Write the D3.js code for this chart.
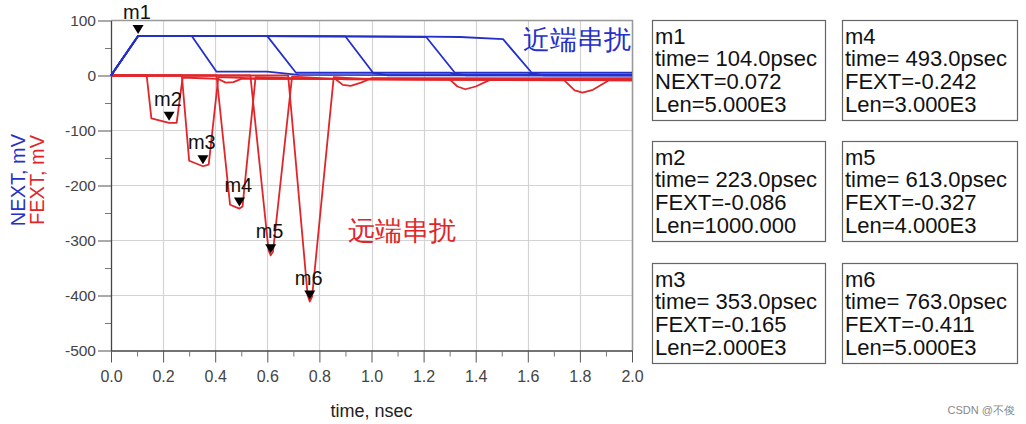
<!DOCTYPE html>
<html><head><meta charset="utf-8">
<script src="https://cdn.jsdelivr.net/npm/d3@7"></script>
<style>
body{margin:0;background:#fff;}
svg{display:block;}
text{font-family:"Liberation Sans",Arial,sans-serif;}
</style>
</head><body>
<svg id="chart" width="1026" height="424"></svg>
<script>
// ---------- data (time in ns, voltage in mV) ----------
const xTickValues = [0, 0.2, 0.4, 0.6, 0.8, 1.0, 1.2, 1.4, 1.6, 1.8, 2.0];
const xTickLabels = ["0.0","0.2","0.4","0.6","0.8","1.0","1.2","1.4","1.6","1.8","2.0"];
const yTickValues = [100, 0, -100, -200, -300, -400, -500];
const yTickLabels = ["100","0","-100","-200","-300","-400","-500"];

const next1000 = [[0,0],[0.104,72],[0.31,72],[0.405,7],[0.60,7],[0.72,1],[2.0,0.5]];
const next2000 = [[0,0],[0.104,72],[0.60,71.5],[0.71,5],[1.0,5],[1.06,0.5],[2.0,0.5]];
const next3000 = [[0,0],[0.104,72],[0.60,71.5],[0.90,71],[1.006,5],[1.30,5],[1.36,0.5],[2.0,0.5]];
const next4000 = [[0,0],[0.104,72],[0.90,71],[1.21,70],[1.32,5],[1.60,5],[1.66,0.5],[2.0,0.5]];
const next5000 = [[0,0],[0.104,72],[0.90,71],[1.20,70.5],[1.34,70],[1.505,66],[1.615,5],[2.0,5]];

const fext1000 = [[0,0],[0.137,0],[0.155,-78],[0.223,-86],[0.252,-86],[0.275,-4],[0.35,-5],[0.41,-6],[0.44,-13],[0.47,-12],[0.50,-6],[2.0,-5]];
const fext2000 = [[0,0],[0.272,0],[0.30,-155],[0.353,-165],[0.375,-162],[0.412,-3],[0.60,-6],[0.86,-6],[0.89,-17],[0.92,-19],[0.96,-13],[1.0,-5],[2.0,-6]];
const fext3000 = [[0,0],[0.405,0],[0.457,-235],[0.493,-242],[0.505,-238],[0.555,-3],[0.80,-6],[1.30,-7],[1.33,-20],[1.36,-25],[1.40,-20],[1.455,-8],[2.0,-8]];
const fext4000 = [[0,0],[0.535,0],[0.605,-318],[0.613,-327],[0.622,-320],[0.695,-2],[0.90,-7],[1.74,-9],[1.78,-27],[1.81,-31],[1.85,-26],[1.91,-9],[2.0,-9]];
const fext5000 = [[0,0],[0.68,0],[0.755,-400],[0.763,-411],[0.772,-402],[0.855,-3],[1.0,-7],[2.0,-9]];

const markerNames  = ["m1","m2","m3","m4","m5","m6"];
const markerTimes  = [0.104, 0.223, 0.353, 0.493, 0.613, 0.763];
const markerValues = [72, -86, -165, -242, -327, -411];
const markerTimeText = ["104.0","223.0","353.0","493.0","613.0","763.0"];
const markerTrace  = ["NEXT","FEXT","FEXT","FEXT","FEXT","FEXT"];
const markerVolt   = ["0.072","-0.086","-0.165","-0.242","-0.327","-0.411"];
const markerLen    = ["5.000E3","1000.000","2.000E3","3.000E3","4.000E3","5.000E3"];

// ---------- drawing ----------
const BLUE = "#2430c8", RED = "#e0262a";
const svg = d3.select("#chart");
svg.append("rect").attr("width",1026).attr("height",424).attr("fill","#fff");

const x = d3.scaleLinear().domain([0, 2]).range([111, 632]);
const y = d3.scaleLinear().domain([-500, 100]).range([350.5, 20.5]);

// grid
const grid = svg.append("g");
grid.selectAll("line.vx").data(xTickValues.slice(1)).join("line")
  .attr("x1", d => Math.round(x(d)) + 0.5).attr("x2", d => Math.round(x(d)) + 0.5)
  .attr("y1", y(100)).attr("y2", y(-500)).attr("stroke", "#d4d4d4").attr("stroke-width", 1.2);
grid.selectAll("line.hy").data(yTickValues.slice(0, -1)).join("line")
  .attr("x1", x(0)).attr("x2", x(2))
  .attr("y1", d => y(d)).attr("y2", d => y(d)).attr("stroke", "#d4d4d4").attr("stroke-width", 1.2);
// top & right frame
svg.append("path").attr("d", `M${x(0)},${y(100)}H${x(2)+0.5}V${y(-500)}`)
  .attr("fill","none").attr("stroke","#999").attr("stroke-width",1.5);

// axes
const xAxis = d3.axisBottom(x).tickValues(xTickValues)
  .tickFormat((d,i) => xTickLabels[i]).tickSize(12).tickSizeOuter(0).tickPadding(8);
const gx = svg.append("g").attr("transform", `translate(0,${y(-500)})`).call(xAxis);
gx.selectAll("text").attr("font-size", 16).attr("fill", "#444").attr("font-family", "Liberation Sans, Arial, sans-serif");
gx.selectAll("line").attr("stroke", "#555");
gx.select(".domain").attr("stroke", "#444").attr("stroke-width", 1.3);
const xMinor = d3.axisBottom(x).tickValues(d3.range(0.1, 2, 0.2)).tickFormat("").tickSize(6).tickSizeOuter(0);
const gxm = svg.append("g").attr("transform", `translate(0,${y(-500)})`).call(xMinor);
gxm.select(".domain").remove(); gxm.selectAll("line").attr("stroke", "#777");

const yAxis = d3.axisLeft(y).tickValues(yTickValues)
  .tickFormat((d,i) => yTickLabels[i]).tickSize(13).tickSizeOuter(0).tickPadding(2);
const gy = svg.append("g").attr("transform", `translate(${x(0)},0)`).call(yAxis);
gy.selectAll("text").attr("font-size", 15.5).attr("fill", "#444").attr("font-family", "Liberation Sans, Arial, sans-serif");
gy.selectAll("line").attr("stroke", "#555");
gy.select(".domain").attr("stroke", "#444").attr("stroke-width", 1.3);
const yMinor = d3.axisLeft(y).tickValues(d3.range(-450, 100, 100)).tickFormat("").tickSize(6).tickSizeOuter(0);
const gym = svg.append("g").attr("transform", `translate(${x(0)},0)`).call(yMinor);
gym.select(".domain").remove(); gym.selectAll("line").attr("stroke", "#777");

// curves
const line = d3.line().x(d => x(d[0])).y(d => y(d[1]));
const fextSeries = [fext1000, fext2000, fext3000, fext4000, fext5000];
const nextSeries = [next1000, next2000, next3000, next4000, next5000];
svg.append("g").selectAll("path").data(fextSeries).join("path")
  .attr("d", line).attr("fill","none").attr("stroke", RED).attr("stroke-width", 1.8).attr("stroke-linejoin","round");
svg.append("g").selectAll("path").data(nextSeries).join("path")
  .attr("d", line).attr("fill","none").attr("stroke", BLUE).attr("stroke-width", 1.8).attr("stroke-linejoin","round");

// markers
const mk = svg.append("g");
markerNames.forEach((n, i) => {
  const px = x(markerTimes[i]), py = y(markerValues[i]);
  mk.append("path").attr("d", `M${px},${py-2}L${px-5.5},${py-11}L${px+5.5},${py-11}Z`).attr("fill", "#000");
  mk.append("text").attr("x", px - 15).attr("y", py - 17).attr("font-size", 20).attr("fill", "#111").text(n);
});

// annotations
svg.append("text").attr("x", 523).attr("y", 49).attr("font-size", 27)
  .attr("font-family", "Noto Sans CJK SC, sans-serif").attr("fill", BLUE).text("近端串扰");
svg.append("text").attr("x", 348).attr("y", 240).attr("font-size", 27)
  .attr("font-family", "Noto Sans CJK SC, sans-serif").attr("fill", RED).text("远端串扰");

// y-axis titles
svg.append("text").attr("transform", "translate(25,180) rotate(-90)").attr("text-anchor","middle")
  .attr("font-size", 20).attr("fill", BLUE).text("NEXT, mV");
svg.append("text").attr("transform", "translate(44,180) rotate(-90)").attr("text-anchor","middle")
  .attr("font-size", 20).attr("fill", RED).text("FEXT, mV");
// x-axis title
svg.append("text").attr("x", (x(0)+x(2))/2).attr("y", 417).attr("text-anchor","middle")
  .attr("font-size", 18).attr("fill", "#222").text("time, nsec");

// marker readout boxes
const boxX = [652, 652, 652, 842, 842, 842];
const boxY = [20, 141, 263, 20, 141, 263];
const boxW = [173, 173, 173, 175, 175, 175];
markerNames.forEach((n, i) => {
  const g = svg.append("g").attr("transform", `translate(${boxX[i]},${boxY[i]})`);
  g.append("rect").attr("x", 0.5).attr("y", 0.5).attr("width", boxW[i]).attr("height", 100)
    .attr("fill", "#fff").attr("stroke", "#666").attr("stroke-width", 1.2);
  const lines = [n, `time= ${markerTimeText[i]}psec`, `${markerTrace[i]}=${markerVolt[i]}`, `Len=${markerLen[i]}`];
  lines.forEach((t, j) => {
    g.append("text").attr("x", 3).attr("y", 23.5 + j * 22.8).attr("font-size", 22).attr("fill", "#111").text(t);
  });
});

// source credit
svg.append("text").attr("x", 1015).attr("y", 414).attr("text-anchor","end").attr("font-size", 11)
  .attr("font-family", "Noto Sans CJK SC, sans-serif").attr("fill", "#888").text("CSDN @不俊");
</script>
</body></html>
